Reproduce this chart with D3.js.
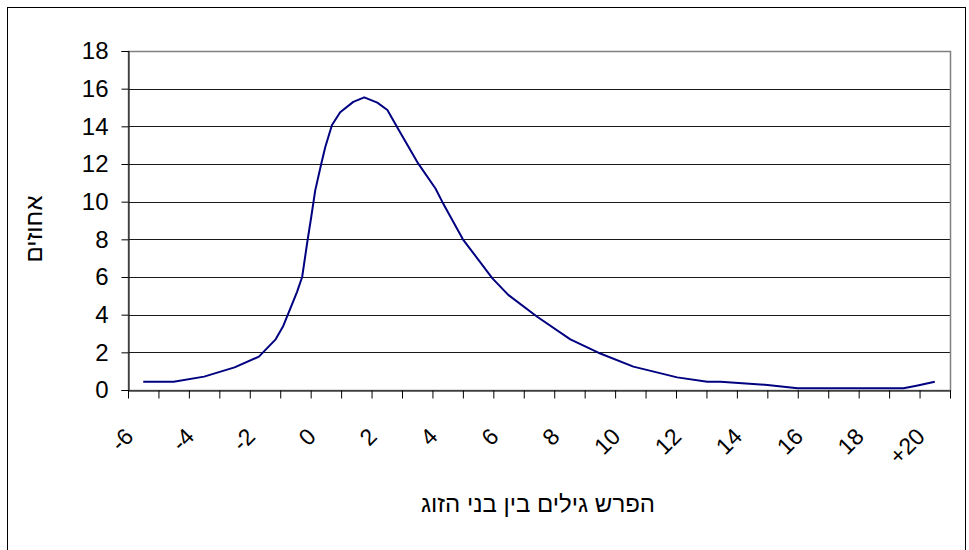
<!DOCTYPE html>
<html>
<head>
<meta charset="utf-8">
<script src="https://cdn.jsdelivr.net/npm/d3@7"></script>
<style>
  html, body { margin: 0; padding: 0; background: #fff; }
  svg { display: block; }
  text { font-family: "Liberation Sans", Arial, "DejaVu Sans", sans-serif; fill: #000; }
</style>
</head>
<body>
<div id="chart"></div>
<script>
// ---- Data ----
// Age difference between spouses (x) and percentage (y) at the line's vertices
const ageDiff = [-6, -5, -4, -3, -2.2, -1.65, -1.4, -0.95, -0.78, -0.6, -0.48, -0.35, -0.15, -0.02,
                 0.2, 0.47, 0.9, 1.26, 1.69, 2.02, 2.38, 3.03, 3.6, 3.82, 4.5, 5.47, 5.99, 6.94,
                 8.03, 8.95, 10.1, 11.54, 12.53, 12.96, 14.5, 15.5, 18.97, 19.4, 20];
const percent = [0.44, 0.44, 0.71, 1.2, 1.77, 2.69, 3.4, 5.2, 6.0, 7.97, 9.2, 10.6, 12.03, 12.9,
                 14.07, 14.75, 15.3, 15.54, 15.26, 14.87, 13.84, 12.03, 10.7, 10.0, 8.0, 5.93, 5.05, 3.89,
                 2.69, 1.98, 1.24, 0.67, 0.44, 0.44, 0.27, 0.09, 0.09, 0.23, 0.44];
const categories = d3.range(-6, 21);              // -6 .. 20
const xLabelValues = [-6, -4, -2, 0, 2, 4, 6, 8, 10, 12, 14, 16, 18, 20];
const xLabelTexts = ["-6", "-4", "-2", "0", "2", "4", "6", "8", "10", "12", "14", "16", "18", "+20"];
const yTicks = [0, 2, 4, 6, 8, 10, 12, 14, 16, 18];
const yTitle = "אחוזים";
const xTitle = "הפרש גילים בין בני הזוג";

// ---- Layout ----
const W = 969, H = 550;
const plot = { left: 128, right: 950, top: 51, bottom: 390 };

const svg = d3.select("#chart").append("svg").attr("width", W).attr("height", H);
svg.append("rect").attr("width", W).attr("height", H).attr("fill", "#fff");

// outer chart border
svg.append("rect").attr("x", 7.5).attr("y", 7.5).attr("width", 958).attr("height", 600)
   .attr("fill", "none").attr("stroke", "#000").attr("stroke-width", 1);

const x = d3.scaleLinear().domain([categories[0] - 0.5, categories[categories.length - 1] + 0.5])
            .range([plot.left, plot.right]);
const y = d3.scaleLinear().domain([0, 18]).range([plot.bottom, plot.top]);

// gridlines
svg.append("g").selectAll("line").data(yTicks.filter(d => d > 0 && d < 18)).join("line")
  .attr("x1", plot.left).attr("x2", plot.right)
  .attr("y1", d => Math.round(y(d)) + 0.5).attr("y2", d => Math.round(y(d)) + 0.5)
  .attr("stroke", "#1a1a1a").attr("stroke-width", 1);

// plot area border (grey)
svg.append("rect").attr("x", plot.left + 0.5).attr("y", Math.round(plot.top) + 0.5)
  .attr("width", plot.right - plot.left).attr("height", plot.bottom - plot.top)
  .attr("fill", "none").attr("stroke", "#808080").attr("stroke-width", 1.5);

// y axis
const yAxis = d3.axisLeft(y).tickValues(yTicks).tickSize(7).tickPadding(13).tickFormat(d3.format("d"));
const gy = svg.append("g").attr("transform", `translate(${plot.left + 0.5},0)`).call(yAxis);
gy.select(".domain").attr("stroke", "#000");
gy.selectAll(".tick line").attr("stroke", "#000");
gy.selectAll(".tick text").style("font-size", "24px");

// x axis ticks (between categories)
const tickVals = d3.range(categories[0] - 0.5, categories[categories.length - 1] + 1, 1);
const xAxisTicks = d3.axisBottom(x).tickValues(tickVals).tickSize(8).tickSizeOuter(0).tickFormat("");
const gx = svg.append("g").attr("transform", `translate(0,${plot.bottom + 0.5})`).call(xAxisTicks);
gx.select(".domain").attr("stroke", "#000");
gx.selectAll(".tick line").attr("stroke", "#000");

// x axis labels (rotated)
const xAxisLabels = d3.axisBottom(x).tickValues(xLabelValues).tickSize(0)
  .tickFormat((d, i) => xLabelTexts[i]);
const gxl = svg.append("g").attr("transform", `translate(0,${plot.bottom})`).call(xAxisLabels);
gxl.select(".domain").remove();
gxl.selectAll(".tick text")
  .attr("text-anchor", "end")
  .attr("y", 0).attr("dy", 0)
  .attr("transform", "translate(-9,48) rotate(-45)")
  .style("font-size", "23px");

// line
const line = d3.line().x((d, i) => x(ageDiff[i])).y(d => y(d));
svg.append("path").datum(percent)
  .attr("d", line)
  .attr("fill", "none").attr("stroke", "#000080").attr("stroke-width", 2)
  .attr("stroke-linejoin", "round");

// titles
svg.append("text")
  .attr("transform", "translate(42,229) rotate(-90)")
  .attr("text-anchor", "middle")
  .style("font-size", "24px")
  .text(yTitle);

svg.append("text")
  .attr("x", 538).attr("y", 512)
  .attr("text-anchor", "middle")
  .style("font-size", "24px")
  .text(xTitle);
</script>
</body>
</html>
